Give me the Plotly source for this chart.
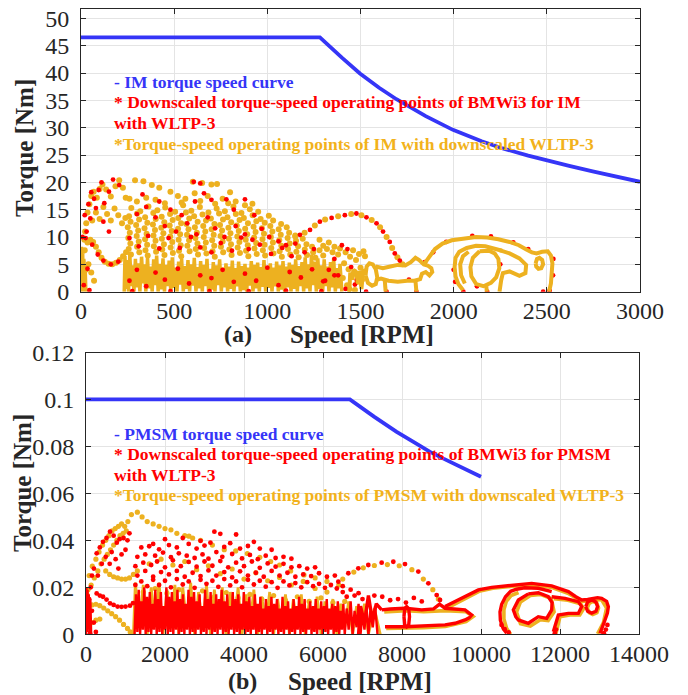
import plotly.graph_objects as go

# ---------------- data ----------------
IM_CURVE_RPM = [0, 1282, 1400, 1497, 1600, 1693, 1850, 1996, 2150, 2264, 2400, 2496, 2620, 2746, 2880, 3000]
IM_CURVE_NM = [46.5, 46.5, 42.8, 39.9, 37.3, 35.2, 32.1, 29.6, 27.5, 26.2, 24.9, 24.0, 23.0, 22.0, 21.0, 20.1]

PM_CURVE_RPM = [0, 6680, 7300, 7865, 8300, 8709, 9050, 9384, 9700, 10000]
PM_CURVE_NM = [0.1, 0.1, 0.0926, 0.0862, 0.0818, 0.0777, 0.0748, 0.0720, 0.0695, 0.0671]

IM_X_TICKS = [0, 500, 1000, 1500, 2000, 2500, 3000]
IM_Y_TICKS = [0, 5, 10, 15, 20, 25, 30, 35, 40, 45, 50]
PM_X_TICKS = [0, 2000, 4000, 6000, 8000, 10000, 12000, 14000]
PM_X_TICKTEXT = ["0", "2000", "4000", "6000", "8000", "10000", "12000", "14000"]
PM_Y_TICKS = [0, 0.02, 0.04, 0.06, 0.08, 0.1, 0.12]
PM_Y_TICKTEXT = ["0", "0.02", "0.04", "0.06", "0.08", "0.1", "0.12"]

# IM: orange operating points (scatter)
IM_ORANGE_DOTS = [
    (5, 3), (8, 5.5), (12, 7.5), (18, 9.5), (22, 11), (28, 12.5), (35, 14.5), (45, 16), (55, 17.5), (68, 18.3),
    (85, 17.2), (100, 18.8), (115, 19.6), (135, 18.7), (160, 17.4), (185, 19.3), (205, 20.4), (225, 19), (240, 17.2),
    (60, 13), (80, 14.5), (100, 13.3), (120, 15.5), (140, 14.2), (160, 13), (180, 15.2), (200, 14), (220, 12.5), (238, 13.5),
    (20, 7.6), (35, 9), (50, 9.5), (65, 9.1), (80, 8.2), (95, 7.2), (110, 6.2), (128, 5.5), (148, 5.1), (168, 5),
    (188, 5.3), (208, 5.8), (226, 6.5), (242, 7.2), (10, 1), (15, 2.5), (25, 4), (40, 5), (55, 3.5), (70, 2),
    (290, 20.4), (335, 20.2), (380, 19.5), (420, 19), (600, 20.1), (650, 19.9), (700, 19.6), (730, 19.7), (800, 18.2),
    (260, 17), (300, 16.5), (350, 17.2), (400, 16.8), (450, 16.2), (520, 17.5), (560, 17), (610, 18), (680, 17.5),
    (760, 17), (830, 16.5), (880, 15.8), (480, 18.3), (540, 16.3), (640, 16.6), (720, 16.1), (790, 16.2), (920, 16.1),
    (270, 15.3), (318, 14.7), (362, 15.6), (410, 14.9), (452, 15.4), (505, 14.6), (548, 15.8), (592, 14.8), (638, 15.5),
    (684, 14.5), (728, 15.2), (772, 14.7), (818, 15.6), (861, 14.4), (906, 15.1), (951, 14.6),
    (258, 13.8), (301, 14.3), (344, 13.6), (388, 14.4), (433, 13.7), (478, 14.2), (522, 13.5), (563, 14.5), (607, 13.8),
    (652, 14.1), (697, 13.4), (741, 14.3), (786, 13.6), (831, 14.2), (874, 13.5), (921, 14), (964, 13.3), (1008, 13.9),
    (266, 12.8), (312, 13.2), (356, 12.6), (401, 13.3), (447, 12.7), (492, 13.1), (537, 12.5), (581, 13.4), (626, 12.8),
    (671, 13), (716, 12.4), (762, 13.2), (806, 12.7), (851, 13.1), (896, 12.5), (941, 12.9), (986, 12.6), (1031, 13), (1074, 12.4),
    (251, 11.8), (296, 12.2), (341, 11.6), (386, 12.3), (431, 11.7), (476, 12.1), (521, 11.5), (566, 12.4), (611, 11.8),
    (656, 12), (701, 11.4), (746, 12.2), (791, 11.7), (836, 12.1), (881, 11.5), (926, 11.9), (971, 11.6), (1016, 12),
    (1061, 11.4), (1104, 11.8),
    (262, 10.8), (307, 11.2), (352, 10.6), (397, 11.3), (442, 10.7), (487, 11.1), (532, 10.5), (577, 11.4), (622, 10.8),
    (667, 11), (712, 10.4), (757, 11.2), (802, 10.7), (847, 11.1), (892, 10.5), (937, 10.9), (982, 10.6), (1027, 11),
    (1072, 10.4), (1117, 10.8), (1150, 10.3),
    (254, 9.8), (299, 10.2), (344, 9.6), (389, 10.3), (434, 9.7), (479, 10.1), (524, 9.5), (569, 10.4), (614, 9.8),
    (659, 10), (704, 9.4), (749, 10.2), (794, 9.7), (839, 10.1), (884, 9.5), (929, 9.9), (974, 9.6), (1019, 10),
    (1064, 9.4), (1109, 9.8), (1154, 9.3), (1190, 9.7),
    (265, 8.8), (310, 9.2), (355, 8.6), (400, 9.3), (445, 8.7), (490, 9.1), (535, 8.5), (580, 9.4), (625, 8.8),
    (670, 9), (715, 8.4), (760, 9.2), (805, 8.7), (850, 9.1), (895, 8.5), (940, 8.9), (985, 8.6), (1030, 9),
    (1075, 8.4), (1120, 8.8), (1165, 8.3), (1210, 8.7), (1240, 8.2),
    (256, 7.8), (301, 8.2), (346, 7.6), (391, 8.3), (436, 7.7), (481, 8.1), (526, 7.5), (571, 8.4), (616, 7.8),
    (661, 8), (706, 7.4), (751, 8.2), (796, 7.7), (841, 8.1), (886, 7.5), (931, 7.9), (976, 7.6), (1021, 8),
    (1066, 7.4), (1111, 7.8), (1156, 7.3), (1201, 7.7), (1246, 7.2), (1280, 7.6),
    (268, 6.8), (313, 7.2), (358, 6.6), (403, 7.3), (448, 6.7), (493, 7.1), (538, 6.5), (583, 7.4), (628, 6.8),
    (673, 7), (718, 6.4), (763, 7.2), (808, 6.7), (853, 7.1), (898, 6.5), (943, 6.9), (988, 6.6), (1033, 7),
    (1078, 6.4), (1123, 6.8), (1168, 6.3), (1213, 6.7), (1258, 6.2), (1300, 6.6),
    (1150, 10.1), (1200, 10.8), (1255, 12.1), (1310, 13.2), (1380, 13.8), (1450, 14.2), (1505, 14.0), (1560, 13.1),
    (1605, 11.8), (1640, 10), (1670, 8), (1698, 6.3), (1725, 5),
    (1405, 2.5), (1412, 5.2), (1420, 7.2), (1428, 1.2), (1436, 4.1), (1444, 6.4), (1452, 2.8), (1460, 7.6), (1468, 3.6),
    (1476, 5.8), (1484, 1.8), (1492, 6.9), (1500, 4.4), (1508, 2.2), (1516, 7.4), (1524, 6.5), (1440, 0.5), (1470, 0.3),
    (1320, 7.8), (1350, 7.2), (1380, 6.8), (1300, 8.4), (1280, 9.5), (1330, 9), (1360, 8.2), (1390, 7.9),
]

# IM: red operating points (scatter)
IM_RED_DOTS = [
    (40, 16), (55, 18.2), (70, 17), (95, 18.6), (110, 20), (150, 18.3), (172, 20.5), (205, 19.5), (20, 14), (30, 11),
    (50, 13.4), (80, 15.3), (125, 16.2), (35, 4.2), (15, 1.2), (45, 0.3), (120, 12.8), (150, 11), (60, 8.6), (90, 6.8),
    (120, 5.7), (160, 5.0), (200, 5.5), (8, 10), (25, 9.8),
    (330, 17.8), (350, 15.5), (420, 16.5), (480, 15), (540, 14), (605, 20.1), (640, 19.8), (612, 16.5), (660, 18),
    (700, 16.8), (780, 16.9), (820, 15), (880, 16.9), (930, 14), (300, 14.2), (400, 13.6), (450, 12), (510, 11),
    (570, 12.5), (620, 10.5), (680, 13.6), (720, 11.6), (770, 10), (830, 12), (880, 10.5), (920, 9.5), (970, 11.5),
    (1010, 10), (1060, 9.2), (1100, 8.5), (1150, 8.8), (1200, 7.2), (1250, 7.8), (260, 9.8), (310, 8.3), (360, 10.2),
    (420, 7.9), (470, 9.8), (530, 8), (590, 10), (640, 8.1), (700, 7.2), (750, 8.9), (810, 7.5), (860, 9.9), (900, 7.8),
    (960, 8.6), (1020, 6.9), (1080, 8), (1130, 6.5),
    (260, 2), (300, 4), (350, 1), (400, 3.5), (450, 2.2), (520, 4.2), (580, 1.5), (640, 3), (700, 2.5), (760, 4),
    (820, 1.8), (880, 3.3), (940, 2), (1000, 4.4), (1060, 1.2), (1120, 3.6), (1180, 2.6), (1240, 4.1), (1300, 1.9),
    (1360, 3), (1420, 0.5), (1480, 2.2), (275, 0.1), (480, 0.1), (690, 0.1), (900, 0.1), (1100, 0.2), (1290, 0.1),
    (1175, 10.4), (1229, 11.3), (1282, 12.8), (1345, 13.5), (1416, 14), (1478, 14.3), (1532, 13.6), (1586, 12.5),
    (1621, 11), (1657, 9.1), (1684, 7), (1711, 5.7),
    (1310, 2), (1330, 4), (1360, 6), (1380, 3), (1450, 4.5), (1470, 1.3), (1400, 8.5), (1430, 7.8),
    (1890, 7.2), (1960, 9.1), (2100, 10.2), (2200, 10.1), (2320, 9.0), (2400, 7.8), (2535, 6), (2533, 3), (2515, 0.2),
    (2000, 4), (2008, 1.8), (2052, 0), (2125, 1.0), (2250, 5), (2180, 0), (1760, 2.2), (1640, 0), (1530, 0), (1800, 0),
    (1845, 5.4), (2480, 0),
]

# IM: orange dense low-torque band (vertices of the up/down trajectory)
IM_ORANGE_BAND = [
    (0, 0), (3, 8.2), (6, 0.3), (9, 7), (12, 0.8), (15, 6), (18, 0), (22, 4.8), (26, 0), (None, None),
    (232, 0), (236, 6.5), (242, 0.5), (248, 5.8), (255, 0), (262, 6.8), (270, 1), (276, 4.8), (284, 0), (292, 6),
    (300, 0.8), (308, 5.2), (316, 0), (325, 6.4), (333, 1.5), (340, 5), (348, 0), (357, 6.2), (365, 0.6), (373, 4.6),
    (382, 0), (390, 5.9), (398, 1.2), (406, 6.6), (414, 0), (422, 5.1), (431, 0.4), (440, 6.1), (448, 0), (457, 4.9),
    (465, 1), (473, 5.7), (482, 0), (490, 6.3), (498, 0.7), (507, 4.4), (515, 0), (524, 5.5), (532, 1.3), (540, 6),
    (549, 0), (557, 4.7), (566, 0.5), (574, 5.8), (583, 0), (591, 5), (600, 1.1), (608, 6.2), (617, 0), (625, 4.5),
    (634, 0.6), (642, 5.6), (651, 0), (659, 4.9), (668, 1), (676, 6), (685, 0), (693, 4.2), (702, 0.4), (710, 5.4),
    (719, 0), (727, 4.8), (736, 1.2), (744, 5.9), (753, 0), (761, 4.4), (770, 0.8), (778, 5.2), (787, 0), (795, 4.6),
    (804, 0.5), (812, 5.7), (821, 0), (829, 4.3), (838, 1), (846, 5.5), (855, 0), (863, 4.7), (872, 0.3), (880, 5.1),
    (889, 0), (897, 4.4), (906, 1.1), (914, 5.6), (923, 0), (931, 4.9), (940, 0.6), (948, 5.3), (957, 0), (965, 4.5),
    (974, 0.9), (982, 5.8), (991, 0), (999, 4.6), (1008, 0.7), (1016, 5.2), (1025, 0), (1033, 4.4), (1042, 1), (1050, 5.5),
    (1059, 0), (1067, 4.8), (1076, 0.4), (1084, 5.6), (1093, 0), (1101, 4.6), (1110, 0.8), (1118, 5.3), (1127, 0),
    (1135, 4.9), (1144, 0.5), (1152, 5.9), (1161, 0), (1169, 4.7), (1178, 1), (1186, 5.4), (1195, 0), (1203, 6.3),
    (1212, 0.6), (1220, 5), (1229, 0), (1237, 6.8), (1246, 1.2), (1254, 5.5), (1263, 0), (1271, 6.1), (1280, 0.5),
    (1288, 4.8), (1297, 0), (1305, 5.9), (1314, 1), (1322, 4.6), (1331, 0), (1339, 5.4), (1348, 0.8), (1356, 6.2),
    (1365, 0), (1373, 4.3), (1382, 0.6), (1390, 5.1), (1400, 0),
]

# IM: orange trajectory loops (higher speeds)
IM_ORANGE_LOOPS = [
    [(1527, 3.0), (1533, 4.6), (1548, 5.2), (1566, 5.0), (1582, 4.1), (1590, 2.6), (1582, 1.4), (1562, 1.1), (1540, 1.6), (1527, 3.0)],
    [(1582, 4.6), (1620, 4.3), (1660, 4.6), (1700, 4.9), (1740, 4.8), (1770, 5.4), (1795, 6.2), (1815, 5.8), (1840, 5.0),
     (1860, 4.8), (1880, 4.3), (1885, 3.6), (1870, 3.0), (1850, 3.6), (1830, 3.3), (1820, 2.3), (1790, 2.0), (1750, 2.0),
     (1700, 1.8), (1650, 2.0), (1610, 2.4), (1590, 2.2)],
    [(1630, 2.2), (1635, 0)],
    [(1795, 2.0), (1800, 0)],
    [(1440, 0), (1445, 3.5), (1455, 2.2), (1462, 4.0), (1475, 3.6), (1488, 1.5), (1495, 3.8), (1505, 0.5), (1515, 4.1), (1527, 3.0)],
    [(1840, 5.0), (1870, 6.3), (1900, 7.8), (1940, 8.8), (1990, 9.4), (2050, 9.7), (2120, 10.0), (2180, 9.9), (2240, 9.6),
     (2300, 9.1), (2350, 8.5), (2390, 7.7), (2420, 7.2), (2445, 7.0), (2475, 7.3), (2505, 7.4), (2522, 6.6), (2530, 5.2),
     (2528, 3.5), (2522, 1.5), (2512, 0)],
    [(2440, 5.2), (2447, 6.0), (2460, 6.2), (2475, 5.8), (2480, 5.0), (2470, 4.3), (2455, 4.2), (2443, 4.6), (2440, 5.2)],
    [(2246, 7.6), (2300, 7.0), (2353, 6.1), (2389, 4.9), (2385, 3.4), (2353, 2.9), (2300, 3.7), (2264, 3.4), (2255, 2.1), (2246, 0)],
    [(2050, 0.3), (2025, 1.4), (2010, 2.8), (2005, 4.5), (2010, 6.2), (2030, 7.3), (2070, 8.0), (2120, 8.4), (2170, 8.3),
     (2220, 7.9), (2260, 7.5)],
    [(2060, 1.5), (2040, 3), (2035, 5), (2050, 6.5), (2080, 7.3)],
    [(2139, 7.4), (2103, 6.2), (2090, 4.5), (2095, 2.8), (2121, 1.4), (2160, 1.0), (2200, 1.6), (2228, 2.6), (2245, 4.3),
     (2240, 6.0), (2220, 7.0), (2190, 7.5), (2139, 7.4)],
    [(2175, 1.0), (2178, 0)],
]

# PMSM: red operating points (scatter)
PM_RED_DOTS = [
    (20, 0.003), (50, 0.008), (80, 0.015), (120, 0.02), (150, 0.025), (200, 0.028), (270, 0.0345), (350, 0.037),
    (430, 0.0394), (520, 0.041), (608, 0.0437), (700, 0.042), (780, 0.039), (850, 0.0405), (950, 0.041), (1050, 0.04),
    (1100, 0.043), (650, 0.035), (750, 0.032), (900, 0.034), (1000, 0.036), (600, 0.03), (400, 0.03), (300, 0.025),
    (500, 0.033), (820, 0.028), (270, 0.0174), (350, 0.0165), (430, 0.016), (520, 0.0148), (608, 0.0132), (700, 0.0125),
    (800, 0.0118), (900, 0.0117), (1000, 0.0118), (1114, 0.0122), (1190, 0.0133), (100, 0.0005), (60, 0.012),
    (150, 0.01), (200, 0.005), (250, 0.001),
    (2000, 0.0405), (2450, 0.041), (3250, 0.0437), (3400, 0.0428), (3800, 0.0425), (4250, 0.0394), (2900, 0.0398), (1700, 0.0385),
    (1400, 0.037), (1600, 0.0375), (1850, 0.0362), (2100, 0.038), (2300, 0.037), (2600, 0.0385), (2800, 0.0365),
    (3000, 0.0378), (3150, 0.039), (3500, 0.0372), (3650, 0.0388), (3900, 0.0365), (4100, 0.0376), (4400, 0.0365), (4700, 0.036),
    (1300, 0.033), (1500, 0.034), (1750, 0.0335), (1950, 0.0348), (2150, 0.0328), (2350, 0.0345), (2550, 0.0335),
    (2750, 0.0325), (2950, 0.034), (3100, 0.0322), (3300, 0.035), (3450, 0.033), (3700, 0.0342), (3950, 0.0323),
    (4150, 0.0338), (4350, 0.032), (4550, 0.0335), (4800, 0.0325), (5000, 0.033), (5200, 0.0322),
    (1250, 0.029), (1450, 0.0305), (1650, 0.0295), (1800, 0.031), (2000, 0.0285), (2200, 0.0315), (2400, 0.029),
    (2600, 0.0308), (2800, 0.0288), (3000, 0.031), (3200, 0.0292), (3400, 0.0312), (3600, 0.0285), (3800, 0.0305),
    (4000, 0.029), (4200, 0.031), (4400, 0.0283), (4600, 0.0302), (4800, 0.0288), (5000, 0.03), (5200, 0.0285),
    (5400, 0.029), (5600, 0.028), (5800, 0.0285),
    (1300, 0.025), (1500, 0.027), (1700, 0.0245), (1900, 0.0265), (2100, 0.0255), (2300, 0.027), (2500, 0.0245),
    (2700, 0.0262), (2900, 0.0248), (3100, 0.0272), (3300, 0.025), (3500, 0.0265), (3700, 0.0242), (3900, 0.0268),
    (4100, 0.025), (4300, 0.0262), (4500, 0.0245), (4700, 0.027), (4900, 0.025), (5100, 0.0262), (5300, 0.0245),
    (5500, 0.0255), (5700, 0.0248), (5900, 0.026), (6100, 0.0245), (6300, 0.025),
    (1250, 0.021), (1400, 0.0225), (1550, 0.0205), (1700, 0.0232), (1850, 0.021), (2000, 0.0228), (2150, 0.02),
    (2300, 0.0235), (2450, 0.0212), (2600, 0.0225), (2750, 0.0198), (2900, 0.0232), (3050, 0.0215), (3200, 0.0228),
    (3350, 0.0202), (3500, 0.0235), (3650, 0.0208), (3800, 0.0225), (3950, 0.02), (4100, 0.0232), (4250, 0.0212),
    (4400, 0.0228), (4550, 0.0203), (4700, 0.0222), (4850, 0.0198), (5000, 0.0225), (5150, 0.0208), (5300, 0.0218),
    (5450, 0.02), (5600, 0.0222), (5750, 0.0205), (5900, 0.0215), (6050, 0.0198), (6200, 0.021), (6350, 0.0195), (6500, 0.0205),
    (6388, 0.0224), (6641, 0.026), (6894, 0.0281), (7147, 0.0295), (7485, 0.0305), (7780, 0.0309), (8076, 0.0299),
    (8413, 0.0267), (8667, 0.0217), (8878, 0.0167), (8962, 0.0146),
    (6500, 0.018), (6600, 0.016), (6700, 0.019), (6800, 0.0165), (6900, 0.0175), (7000, 0.015), (7300, 0.0165),
    (7500, 0.016), (7700, 0.0145), (7900, 0.015), (8100, 0.0135), (8300, 0.0155), (8500, 0.014),
    (10600, 0.0022), (10700, 0.0008), (13200, 0.004), (13160, 0.002), (13110, 0.0005), (10520, 0.004), (11900, 0.002), (11870, 0.0005),
]

# PMSM: orange operating points (scatter)
PM_ORANGE_DOTS = [
    (80, 0.025), (160, 0.029), (250, 0.032), (330, 0.035), (420, 0.038), (500, 0.04), (580, 0.042), (660, 0.044),
    (740, 0.045), (820, 0.046), (900, 0.047), (980, 0.046), (1060, 0.048), (1150, 0.051), (1300, 0.052), (1420, 0.050),
    (1550, 0.048), (1700, 0.047), (1850, 0.046), (2000, 0.045), (2150, 0.0445), (2300, 0.043), (2500, 0.042), (2700, 0.041),
    (20, 0.017), (50, 0.019), (130, 0.021), (210, 0.024), (300, 0.027), (380, 0.03), (460, 0.032), (540, 0.034),
    (620, 0.036), (700, 0.038), (780, 0.04), (860, 0.042), (940, 0.043), (1020, 0.044),
    (500, 0.027), (600, 0.0255), (700, 0.0245), (800, 0.024), (900, 0.0235), (1000, 0.0235), (1100, 0.024), (1200, 0.0255), (1300, 0.027),
    (60, 0.011), (150, 0.0125), (250, 0.0128), (350, 0.0122), (450, 0.0112), (550, 0.01), (650, 0.0088), (750, 0.0075),
    (850, 0.006), (950, 0.0042), (1050, 0.0025), (1120, 0.001), (60, 0.0035), (150, 0.005), (250, 0.006), (350, 0.0065),
    (2608, 0.0418), (2900, 0.04), (3200, 0.038), (3500, 0.036), (3789, 0.0355), (4084, 0.0344), (4400, 0.0328),
    (4675, 0.031), (4900, 0.0295), (5181, 0.027), (5519, 0.0253), (5800, 0.024), (6100, 0.0225), (6400, 0.021),
    (1600, 0.03), (1900, 0.032), (2200, 0.0295), (2500, 0.031), (2800, 0.0275), (3100, 0.0292), (3400, 0.0258),
    (3700, 0.0278), (4000, 0.0235), (4300, 0.0262), (4600, 0.0228), (4900, 0.0242), (5200, 0.021), (5500, 0.0225),
    (5800, 0.0195), (6100, 0.018), (1450, 0.018), (1750, 0.0195), (2050, 0.0175), (2350, 0.019), (2650, 0.0165),
    (2950, 0.0185), (3250, 0.016), (3550, 0.0178), (3850, 0.0155), (4150, 0.017), (4450, 0.015), (4750, 0.0165),
    (5050, 0.0145), (5350, 0.016), (5650, 0.014), (5950, 0.0155), (6250, 0.0135), (6550, 0.014),
    (6500, 0.0235), (6780, 0.0265), (7020, 0.0283), (7300, 0.0293), (7630, 0.0297), (7930, 0.0292), (8250, 0.0275),
    (8540, 0.0235), (8780, 0.019), (8920, 0.015),
]

# PMSM: dense low-torque bands (vertices of the up/down trajectory)
PM_ORANGE_BAND = [
    (1200, 0), (1250, 0.022), (1350, 0.003), (1450, 0.021), (1550, 0), (1650, 0.02), (1750, 0.004), (1850, 0.022),
    (1950, 0), (2050, 0.019), (2150, 0.003), (2250, 0.021), (2350, 0), (2450, 0.02), (2550, 0.004), (2650, 0.022),
    (2750, 0), (2850, 0.018), (2950, 0.003), (3050, 0.021), (3150, 0), (3250, 0.019), (3350, 0.004), (3450, 0.02),
    (3550, 0), (3650, 0.018), (3750, 0.003), (3850, 0.02), (3950, 0), (4050, 0.017), (4150, 0.004), (4250, 0.019),
    (4350, 0), (4450, 0.016), (4550, 0.003), (4650, 0.018), (4750, 0), (4850, 0.015), (4950, 0.004), (5050, 0.017),
    (5150, 0), (5250, 0.015), (5350, 0.003), (5450, 0.017), (5550, 0), (5650, 0.014), (5750, 0.003), (5850, 0.016),
    (5950, 0), (6050, 0.014), (6150, 0.004), (6250, 0.015), (6350, 0), (6450, 0.013), (6550, 0.003), (6650, 0.014),
    (6750, 0), (6850, 0.012), (6950, 0.003), (7050, 0.013), (7150, 0), (7300, 0.011), (7450, 0),
]
PM_RED_BAND = [
    (0, 0), (10, 0.02), (25, 0.001), (40, 0.019), (55, 0.003), (70, 0.017), (90, 0.0), (110, 0.015), (130, 0), (None, None),
    (1230, 0), (1265, 0.017), (1300, 0.001), (1335, 0.019), (1370, 0), (1405, 0.014), (1440, 0.002), (1475, 0.02),
    (1510, 0), (1545, 0.016), (1580, 0.001), (1615, 0.018), (1650, 0), (1685, 0.013), (1720, 0.002), (1755, 0.019),
    (1790, 0), (1825, 0.015), (1860, 0.001), (1895, 0.018), (1930, 0), (1965, 0.012), (2000, 0.002), (2035, 0.02),
    (2070, 0), (2105, 0.016), (2140, 0.001), (2175, 0.018), (2210, 0), (2245, 0.014), (2280, 0.002), (2315, 0.019),
    (2350, 0), (2385, 0.015), (2420, 0.001), (2455, 0.017), (2490, 0), (2525, 0.013), (2560, 0.002), (2595, 0.019),
    (2630, 0), (2665, 0.016), (2700, 0.001), (2735, 0.018), (2770, 0), (2805, 0.014), (2840, 0.002), (2875, 0.017),
    (2910, 0), (2945, 0.012), (2980, 0.001), (3015, 0.019), (3050, 0), (3085, 0.015), (3120, 0.002), (3155, 0.018),
    (3190, 0), (3225, 0.013), (3260, 0.001), (3295, 0.017), (3330, 0), (3365, 0.015), (3400, 0.002), (3435, 0.019),
    (3470, 0), (3505, 0.014), (3540, 0.001), (3575, 0.017), (3610, 0), (3645, 0.012), (3680, 0.002), (3715, 0.018),
    (3750, 0), (3785, 0.015), (3820, 0.001), (3855, 0.017), (3890, 0), (3925, 0.013), (3960, 0.002), (3995, 0.018),
    (4030, 0), (4065, 0.014), (4100, 0.001), (4135, 0.016), (4170, 0), (4205, 0.012), (4240, 0.002), (4275, 0.017),
    (4310, 0), (4345, 0.013), (4380, 0.001), (4415, 0.016), (4450, 0), (4485, 0.011), (4520, 0.002), (4555, 0.015),
    (4590, 0), (4625, 0.012), (4660, 0.001), (4695, 0.016), (4730, 0), (4765, 0.013), (4800, 0.002), (4835, 0.015),
    (4870, 0), (4905, 0.011), (4940, 0.001), (4975, 0.016), (5010, 0), (5045, 0.012), (5080, 0.002), (5115, 0.014),
    (5150, 0), (5185, 0.011), (5220, 0.001), (5255, 0.015), (5290, 0), (5325, 0.012), (5360, 0.002), (5395, 0.016),
    (5430, 0), (5465, 0.013), (5500, 0.001), (5535, 0.015), (5570, 0), (5605, 0.011), (5640, 0.002), (5675, 0.014),
    (5710, 0), (5745, 0.012), (5780, 0.001), (5815, 0.015), (5850, 0), (5885, 0.011), (5920, 0.002), (5955, 0.014),
    (5990, 0), (6025, 0.012), (6060, 0.001), (6095, 0.015), (6130, 0), (6165, 0.011), (6200, 0.002), (6235, 0.013),
    (6270, 0), (6305, 0.012), (6340, 0.001), (6375, 0.014), (6410, 0), (6445, 0.01), (6480, 0.002), (6515, 0.013),
    (6550, 0), (6600, 0.011), (6650, 0.002), (6700, 0.014), (6750, 0), (6800, 0.01), (6850, 0.003), (6900, 0.013),
    (6950, 0), (7000, 0.009), (7050, 0.002), (7100, 0.012), (7150, 0), (7200, 0.01), (7260, 0.003), (7320, 0.012), (7380, 0),
]

# PMSM: trajectory loops
PM_RED_LOOPS = [
    [(7485, 0.0104), (7700, 0.0108), (8076, 0.0111), (8498, 0.0104), (8800, 0.0108), (8950, 0.0128), (9089, 0.0111),
     (9400, 0.0108), (9595, 0.0104), (9764, 0.0082), (9700, 0.007), (9595, 0.0061), (9342, 0.0047), (9089, 0.004),
     (8498, 0.0035), (8076, 0.0032), (7569, 0.0032)],
    [(8050, 0.0075), (8070, 0.011), (8118, 0.0118), (8170, 0.011), (8190, 0.0075), (8170, 0.004), (8118, 0.0032), (8070, 0.004), (8050, 0.0075)],
    [(6900, 0), (6950, 0.012), (7050, 0.005), (7150, 0.0165), (7250, 0.006), (7350, 0.013), (7485, 0.0104)],
    [(9089, 0.0118), (9300, 0.0135), (9511, 0.0153), (9720, 0.0172), (9933, 0.0189), (10270, 0.02), (10777, 0.021),
     (11283, 0.0217), (11789, 0.0206), (12000, 0.0195), (12211, 0.0182), (12400, 0.016), (12549, 0.0146), (12700, 0.0148),
     (12802, 0.0152), (12950, 0.0156), (13055, 0.0153), (13180, 0.014), (13224, 0.0118), (13200, 0.009), (13139, 0.0061),
     (13080, 0.003), (13013, 0.0004)],
    [(10650, 0.0005), (10560, 0.0025), (10490, 0.006), (10481, 0.0095), (10523, 0.0128), (10620, 0.016), (10750, 0.0183),
     (10900, 0.0192), (11100, 0.0198), (11451, 0.0196), (11789, 0.0182)],
    [(11198, 0.0172), (10946, 0.0146), (10819, 0.0104), (10880, 0.0075), (10946, 0.0061), (11198, 0.0047), (11451, 0.0075),
     (11662, 0.0068), (11789, 0.0104), (11800, 0.0135), (11705, 0.016), (11451, 0.0177), (11198, 0.0172)],
    [(11789, 0.016), (12126, 0.0153), (12464, 0.0139), (12549, 0.0118), (12464, 0.0089), (12211, 0.0089), (11958, 0.0082),
     (11873, 0.004), (11831, 0.0011)],
    [(12652, 0.0118), (12700, 0.0138), (12802, 0.0146), (12910, 0.0138), (12952, 0.0118), (12910, 0.0098), (12802, 0.009),
     (12700, 0.0098), (12652, 0.0118)],
]
PM_ORANGE_LOOPS = [
    [(7550, 0.0095), (8100, 0.0101), (8550, 0.0096), (9100, 0.0101), (9620, 0.0096), (9800, 0.0076), (9620, 0.0054),
     (9100, 0.0033), (8550, 0.0028), (8100, 0.0025), (7600, 0.0025)],
    [(9150, 0.0112), (9550, 0.0148), (9950, 0.0183), (10300, 0.0196), (10800, 0.0205), (11300, 0.021), (11800, 0.0199),
     (12200, 0.0175), (12550, 0.014), (12800, 0.0143), (13050, 0.0148), (13180, 0.0112), (13100, 0.005), (12950, 0.0002)],
    [(10750, 0.0), (10650, 0.0025), (10580, 0.0065), (10580, 0.0105), (10640, 0.014), (10760, 0.0165), (10950, 0.0178)],
    [(11250, 0.0165), (11000, 0.0138), (10900, 0.0095), (11000, 0.0045), (11250, 0.0035), (11500, 0.0062), (11700, 0.0058),
     (11850, 0.0095), (11780, 0.0152), (11500, 0.017), (11250, 0.0165)],
    [(11850, 0.0152), (12200, 0.0145), (12520, 0.013), (12600, 0.011), (12500, 0.0082), (12250, 0.0082), (12000, 0.0075),
     (11930, 0.0035), (11900, 0.0005)],
    [(12690, 0.0112), (12740, 0.0132), (12830, 0.014), (12935, 0.0132), (12975, 0.0112), (12935, 0.0092), (12830, 0.0084),
     (12740, 0.0092), (12690, 0.0112)],
]

IM_LABELS = ["- IM torque speed curve",
             "* Downscaled torque-speed operating points of BMWi3 for IM",
             "with WLTP-3",
             "*Torque-speed operating points of IM with downscaled WLTP-3"]
PM_LABELS = ["- PMSM torque speed curve",
             "* Downscaled torque-speed operating points of BMWi3 for PMSM",
             "with WLTP-3",
             "*Torque-speed operating points of PMSM with downscaled WLTP-3"]

# ---------------- styling ----------------
BLUE = "#3535f7"
RED = "#ff0000"
ORANGE = "#EDB120"
ORANGE_TXT = "#F2B21B"
AX = "#262626"
SERIF = "Liberation Serif, Times New Roman, serif"
# the page body margin is removed (post_script), so the figure fills the full window
OFF = 0
W, H = 688 - OFF, 695 - OFF


def unzip(pairs):
    return [p[0] for p in pairs], [p[1] for p in pairs]


def paths(list_of_paths):
    xs, ys = [], []
    for p in list_of_paths:
        for x, y in p:
            xs.append(x)
            ys.append(y)
        xs.append(None)
        ys.append(None)
    return xs, ys


fig = go.Figure()


def add_line(xy, color, width, xa, ya):
    fig.add_trace(go.Scatter(x=xy[0], y=xy[1], mode="lines", line=dict(color=color, width=width),
                             xaxis=xa, yaxis=ya, hoverinfo="skip", connectgaps=False))


def add_dots(xy, color, size, xa, ya):
    fig.add_trace(go.Scatter(x=xy[0], y=xy[1], mode="markers", marker=dict(color=color, size=size, line=dict(width=0)),
                             xaxis=xa, yaxis=ya, hoverinfo="skip"))


# top (IM)
add_line(unzip(IM_ORANGE_BAND), ORANGE, 3.5, "x", "y")
add_dots(unzip(IM_ORANGE_DOTS), ORANGE, 6, "x", "y")
add_dots(unzip(IM_RED_DOTS), RED, 4.8, "x", "y")
add_line(paths(IM_ORANGE_LOOPS), ORANGE, 4, "x", "y")
add_line((IM_CURVE_RPM, IM_CURVE_NM), BLUE, 3.8, "x", "y")

# bottom (PMSM)
add_line(unzip(PM_ORANGE_BAND), ORANGE, 2.8, "x2", "y2")
add_line(paths(PM_ORANGE_LOOPS), ORANGE, 3.6, "x2", "y2")
add_dots(unzip(PM_ORANGE_DOTS), ORANGE, 5.2, "x2", "y2")
add_line(unzip(PM_RED_BAND), RED, 2.4, "x2", "y2")
add_line(paths(PM_RED_LOOPS), RED, 3.4, "x2", "y2")
add_dots(unzip(PM_RED_DOTS), RED, 4.8, "x2", "y2")
add_line((PM_CURVE_RPM, PM_CURVE_NM), BLUE, 3.8, "x2", "y2")

axis_common = dict(showline=True, linecolor=AX, linewidth=1, mirror="ticks", ticks="inside", ticklen=5,
                   tickcolor=AX, tickwidth=1, showgrid=True, gridcolor="#e4e4e4", gridwidth=1, zeroline=False,
                   tickfont=dict(family=SERIF, size=24, color=AX), automargin=False, fixedrange=True,
                   ticklabeloverflow="allow")


def px_x(a, b):
    return [(a - OFF) / W, (b - OFF) / W]


def px_y(top, bottom):
    return [1 - (bottom - OFF) / H, 1 - (top - OFF) / H]


fig.update_layout(
    width=W, height=H, margin=dict(l=0, r=0, t=0, b=0),
    paper_bgcolor="white", plot_bgcolor="white", showlegend=False,
    xaxis=dict(domain=px_x(81, 640), range=[0, 3000], anchor="y", tickvals=IM_X_TICKS,
               ticklabelstandoff=-3, **axis_common),
    yaxis=dict(domain=px_y(9.3, 291.7), range=[0, 51.65], anchor="x", tickvals=IM_Y_TICKS,
               ticklabelstandoff=6, **axis_common),
    xaxis2=dict(domain=px_x(86, 639), range=[0, 14000], anchor="y2", tickvals=PM_X_TICKS,
                ticktext=PM_X_TICKTEXT, ticklabelstandoff=-2, **axis_common),
    yaxis2=dict(domain=px_y(352.5, 634.3), range=[0, 0.12], anchor="x2", tickvals=PM_Y_TICKS,
                ticktext=PM_Y_TICKTEXT, ticklabelstandoff=6, **axis_common),
)

ann = []


def txt(text, x, y, size, color, xanchor="center", angle=0):
    ann.append(dict(text=text, x=(x - OFF) / W, y=1 - (y - OFF) / H, xref="paper", yref="paper", showarrow=False,
                    xanchor=xanchor, yanchor="middle", textangle=angle,
                    font=dict(family=SERIF, size=size, color=color)))


# axis titles
txt("<b>(a)</b>", 238, 334, 24, AX)
txt("<b>Speed [RPM]</b>", 362, 334, 25, AX)
txt("<b>(b)</b>", 242, 681, 24, AX)
txt("<b>Speed [RPM]</b>", 360, 681, 25, AX)
txt("<b>Torque [Nm]</b>", 25, 148, 25, AX, angle=-90)
txt("<b>Torque [Nm]</b>", 22, 483, 25, AX, angle=-90)

# in-plot legend texts
label_colors = [BLUE, RED, RED, ORANGE_TXT]
for lab, col, yy in zip(IM_LABELS, label_colors, [82, 102.5, 123, 144]):
    txt("<b>" + lab + "</b>", 112, yy, 17.5, col, xanchor="left")
for lab, col, yy in zip(PM_LABELS, label_colors, [434, 454, 475, 495]):
    txt("<b>" + lab + "</b>", 112, yy, 17.5, col, xanchor="left")

fig.update_layout(annotations=ann)
fig.write_html("out.html", config={"displayModeBar": False, "staticPlot": True},
               post_script="document.body.style.margin='0px';document.body.style.overflow='hidden';")
